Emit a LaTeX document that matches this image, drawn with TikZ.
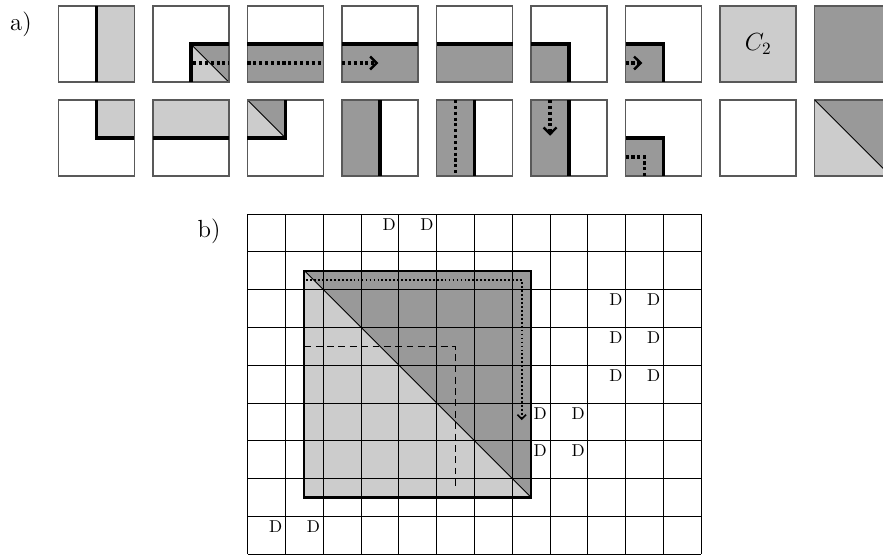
\documentclass[tikz,border=0pt]{standalone}
\usetikzlibrary{arrows.meta}
\begin{document}
\begin{tikzpicture}[x=0.5814pt,y=-0.5814pt,
  light/.style={fill=gray!40},
  dark/.style={fill=gray!80},
  tileborder/.style={draw=black!65,line width=0.9pt},
  wall/.style={draw=black,line width=2pt,line join=miter},
  diag/.style={draw=black,line width=0.5pt},
  tdots/.style={draw=black,line width=2pt,dash pattern=on 1.8pt off 1.6pt},
  ttip/.style={-{Straight Barb[length=3.8pt,width=7.5pt,line width=1.4pt]}},
  gdots/.style={draw=black,line width=1.1pt,dash pattern=on 1pt off 1.3pt},
  gtip/.style={-{Straight Barb[length=2.5pt,width=5pt,line width=0.9pt]}},
  gline/.style={draw=black,line width=0.55pt},
  gdash/.style={draw=black,line width=0.5pt,dash pattern=on 4pt off 2.6pt},
  dlabel/.style={inner sep=0pt,font=\normalsize},
  lbl/.style={inner sep=0pt,font=\Large}]
\useasboundingbox (0,0) rectangle (883,554);
\newcommand\tileat[4]{\begin{scope}[shift={(#1,#2)},scale=76]
  #3
  \draw[tileborder] (0,0) rectangle (1,1);
  #4
\end{scope}}
\node[lbl] (la) at (21,24) {a)};
\node[lbl] (lb) at (209,231.5) {b)};
% ---------- row 1 ----------
\tileat{58.3}{6}{\fill[light] (0.5,0) rectangle (1,1);}{\draw[wall] (0.5,0)--(0.5,1);}
\tileat{152.85}{6}{\fill[light] (0.5,0.5)--(0.5,1)--(1,1)--cycle;
  \fill[dark] (0.5,0.5)--(1,0.5)--(1,1)--cycle;
  \draw[diag] (0.5,0.5)--(1,1);}
  {\draw[wall] (0.5,1)--(0.5,0.5)--(1,0.5); \draw[tdots] (0.53,0.75)--(1,0.75);}
\tileat{247.4}{6}{\fill[dark] (0,0.5) rectangle (1,1);}
  {\draw[wall] (0,0.5)--(1,0.5); \draw[tdots] (0,0.75)--(1,0.75);}
\tileat{341.95}{6}{\fill[dark] (0,0.5) rectangle (1,1);}
  {\draw[wall] (0,0.5)--(1,0.5); \draw[tdots,ttip] (0,0.75)--(0.48,0.75);}
\tileat{436.5}{6}{\fill[dark] (0,0.5) rectangle (1,1);}
  {\draw[wall] (0,0.5)--(1,0.5);}
\tileat{531.05}{6}{\fill[dark] (0,0.5) rectangle (0.5,1);}
  {\draw[wall] (0,0.5)--(0.5,0.5)--(0.5,1);}
\tileat{625.6}{6}{\fill[dark] (0,0.5) rectangle (0.5,1);}
  {\draw[wall] (0,0.5)--(0.5,0.5)--(0.5,1); \draw[tdots,ttip] (0,0.75)--(0.22,0.75);}
\tileat{720.15}{6}{\fill[light] (0,0) rectangle (1,1);}
  {\node[inner sep=0pt,font=\Large] (c2) at (0.5,0.5) {$C_2$};}
\tileat{814.7}{6}{\fill[dark] (0,0) rectangle (1,1);}{}
% ---------- row 2 ----------
\tileat{58.3}{100}{\fill[light] (0.5,0) rectangle (1,0.5);}
  {\draw[wall] (0.5,0)--(0.5,0.5)--(1,0.5);}
\tileat{152.85}{100}{\fill[light] (0,0) rectangle (1,0.5);}
  {\draw[wall] (0,0.5)--(1,0.5);}
\tileat{247.4}{100}{\fill[light] (0,0)--(0,0.5)--(0.5,0.5)--cycle;
  \fill[dark] (0,0)--(0.5,0)--(0.5,0.5)--cycle;
  \draw[diag] (0,0)--(0.5,0.5);}
  {\draw[wall] (0.5,0)--(0.5,0.5)--(0,0.5);}
\tileat{341.95}{100}{\fill[dark] (0,0) rectangle (0.5,1);}
  {\draw[wall] (0.5,0)--(0.5,1);}
\tileat{436.5}{100}{\fill[dark] (0,0) rectangle (0.5,1);}
  {\draw[wall] (0.5,0)--(0.5,1); \draw[tdots] (0.25,0)--(0.25,1);}
\tileat{531.05}{100}{\fill[dark] (0,0) rectangle (0.5,1);}
  {\draw[wall] (0.5,0)--(0.5,1); \draw[tdots,ttip] (0.25,0)--(0.25,0.47);}
\tileat{625.6}{100}{\fill[dark] (0,0.5) rectangle (0.5,1);}
  {\draw[wall] (0,0.5)--(0.5,0.5)--(0.5,1); \draw[tdots] (0,0.75)--(0.25,0.75)--(0.25,1);}
\tileat{720.15}{100}{}{}
\tileat{814.7}{100}{\fill[light] (0,0)--(0,1)--(1,1)--cycle;
  \fill[dark] (0,0)--(1,0)--(1,1)--cycle;}
  {\draw[diag] (0,0)--(1,1);}
% ---------- grid ----------
\begin{scope}[shift={(247.7,214)},scale=37.8]
  \fill[light] (1.5,1.5) rectangle (7.5,7.5);
  \fill[dark] (1.5,1.5)--(7.5,1.5)--(7.5,7.5)--cycle;
  \foreach \c in {0,...,12} \draw[gline] (\c,0)--(\c,9);
  \foreach \r in {0,...,9} \draw[gline] (0,\r)--(12,\r);
  \draw[line width=1.2pt] (1.5,1.5) rectangle (7.5,7.5);
  \draw[diag] (1.5,1.5)--(7.5,7.5);
  \draw[gdots,gtip] (1.55,1.75)--(7.25,1.75)--(7.25,5.45);
  \draw[gdash] (1.5,3.5)--(5.5,3.5)--(5.5,7.3);
  \foreach \c/\r [count=\i] in {3/0,4/0,9/2,10/2,9/3,10/3,9/4,10/4,7/5,8/5,7/6,8/6,0/8,1/8}
    \node[dlabel] (d\i) at (\c+0.74,\r+0.27) {D};
\end{scope}
\end{tikzpicture}
\end{document}
